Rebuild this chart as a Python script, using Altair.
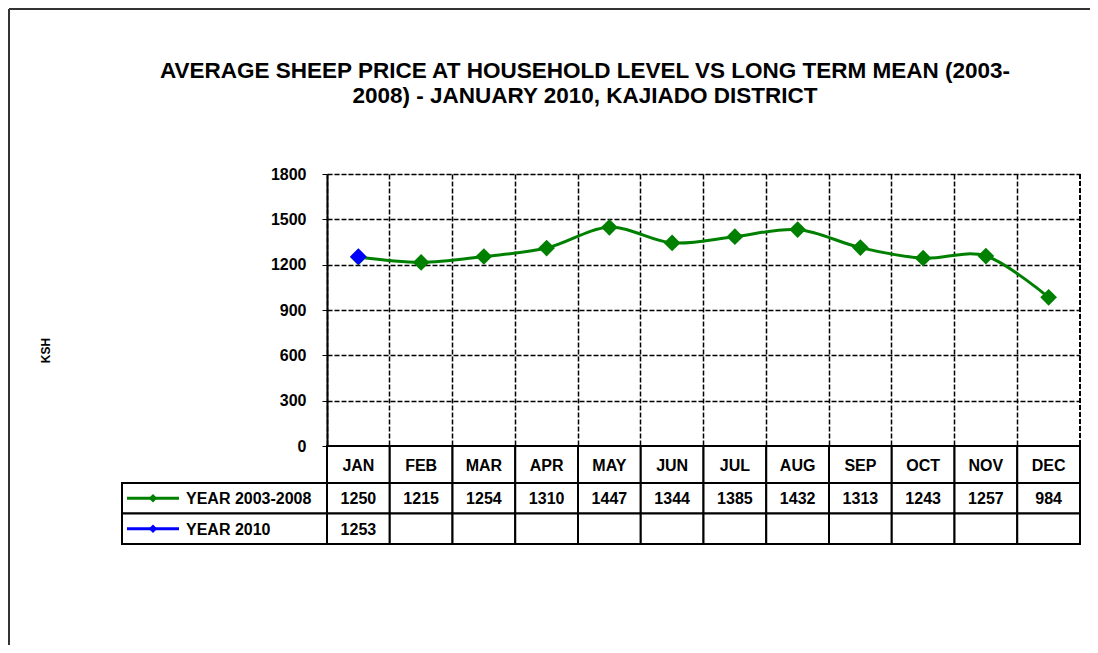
import altair as alt
import pandas as pd

months = ["JAN", "FEB", "MAR", "APR", "MAY", "JUN", "JUL", "AUG", "SEP", "OCT", "NOV", "DEC"]
mean_2003_2008 = [1250, 1215, 1254, 1310, 1447, 1344, 1385, 1432, 1313, 1243, 1257, 984]
year_2010 = [1253]
series_names = ["YEAR 2003-2008", "YEAR 2010"]
series_colors = ["#008000", "#0000FF"]
y_ticks = [0, 300, 600, 900, 1200, 1500, 1800]
title_lines = ["AVERAGE SHEEP PRICE AT HOUSEHOLD LEVEL VS LONG TERM MEAN (2003-",
               "2008) - JANUARY 2010, KAJIADO DISTRICT"]
y_title = "KSH"

FONT = "Liberation Sans"
W, H = 753, 272
HEADER_H = 37
TABLE_BOTTOM = 370
TXT = 16

# ---- data frames ----
line_rows = []
for m, v in zip(months, mean_2003_2008):
    line_rows.append({"month": m, "value": v, "series": series_names[0]})
for m, v in zip(months, year_2010):
    line_rows.append({"month": m, "value": v, "series": series_names[1]})
df_line = pd.DataFrame(line_rows)

df_header = pd.DataFrame({"month": months})
cell_rows = []
for i, m in enumerate(months):
    cell_rows.append({"month": m, "row": series_names[0], "text": str(mean_2003_2008[i])})
    cell_rows.append({"month": m, "row": series_names[1],
                      "text": str(year_2010[i]) if i < len(year_2010) else ""})
df_cells = pd.DataFrame(cell_rows)
df_legend = pd.DataFrame({"row": series_names, "series": series_names})
df_title = pd.DataFrame({"text": ["\n".join(title_lines)]})

xscale = alt.Scale(type="band", domain=months, paddingInner=0, paddingOuter=0)
xaxis = alt.Axis(labels=False, ticks=False, domainColor="black", domainWidth=2, bandPosition=0,
                 grid=True, gridColor="black", gridDash=[5, 2], gridWidth=1.5, gridOpacity=1,
                 title=None)
color = alt.Color("series:N", scale=alt.Scale(domain=series_names, range=series_colors), legend=None)


def X(center=True):
    if center:
        return alt.X("month:N", scale=xscale, sort=months, axis=xaxis, bandPosition=0.5)
    return alt.X("month:N", scale=xscale, sort=months, axis=xaxis)


yval = alt.Y("value:Q", scale=alt.Scale(domain=[0, 1800], nice=False, zero=True),
             axis=alt.Axis(values=y_ticks, format="d", title=y_title, titleFontSize=12,
                           titleFontWeight="bold",
                           titleX=-282, titleY=176, titleAngle=-90, titleAlign="center",
                           titleBaseline="middle", labelFontSize=TXT, labelFontWeight="bold",
                           labelPadding=16, tickSize=5, tickColor="black", labelColor="black",
                           domainColor="black", domainWidth=2, titleColor="black",
                           grid=True, gridColor="black", gridDash=[5, 2], gridWidth=1.5,
                           gridOpacity=1))

base_line = alt.Chart(df_line)
line = base_line.transform_filter(alt.datum.series == series_names[0]).mark_line(
    interpolate="cardinal", strokeWidth=3, color=series_colors[0]
).encode(x=X(), y=yval)
pts_mean = base_line.transform_filter(alt.datum.series == series_names[0]).mark_point(
    shape="diamond", filled=True, size=280, opacity=1
).encode(x=X(), y=yval, color=color)
pts_2010 = base_line.transform_filter(alt.datum.series == series_names[1]).mark_point(
    shape="diamond", filled=True, size=280, opacity=1
).encode(x=X(), y=yval, color=color)
right_edge = alt.Chart(df_line).mark_rule(color="black", strokeDash=[5, 2], strokeWidth=1.5).encode(
    x=alt.value(W), y=alt.value(0), y2=alt.value(H))

plot_layer = alt.layer(right_edge, line, pts_mean, pts_2010)

# ---- data table ----
scale_rows = alt.Scale(type="band", domain=series_names, range=[H + HEADER_H, TABLE_BOTTOM],
                       paddingInner=0, paddingOuter=0)
yrow = alt.Y("row:N", scale=scale_rows, axis=None, title=None)
yrow_c = alt.Y("row:N", scale=scale_rows, axis=None, title=None, bandPosition=0.5)

head_cells = alt.Chart(df_header).mark_rect(fill="white", stroke="black", strokeWidth=2).encode(
    x=X(False), y=alt.value(H), y2=alt.value(H + HEADER_H))
head_text = alt.Chart(df_header).mark_text(fontSize=TXT, fontWeight="bold", color="black",
                                           baseline="middle", font=FONT).encode(
    x=X(), y=alt.value(H + HEADER_H / 2 + 1), text="month:N")
cells = alt.Chart(df_cells).mark_rect(fill="white", stroke="black", strokeWidth=2).encode(
    x=X(False), y=yrow)
cell_text = alt.Chart(df_cells).mark_text(fontSize=TXT, fontWeight="bold", color="black",
                                          baseline="middle", font=FONT, dy=1).encode(
    x=X(), y=yrow_c, text="text:N")
leg_cells = alt.Chart(df_legend).mark_rect(fill="white", stroke="black", strokeWidth=2).encode(
    x=alt.value(-205), x2=alt.value(0), y=yrow)
leg_rule = alt.Chart(df_legend).mark_rule(strokeWidth=3).encode(
    x=alt.value(-200), x2=alt.value(-148), y=yrow_c, color=color)
leg_pt = alt.Chart(df_legend).mark_point(shape="diamond", filled=True, size=70, opacity=1).encode(
    x=alt.value(-174), y=yrow_c, color=color)
leg_text = alt.Chart(df_legend).mark_text(fontSize=TXT, fontWeight="bold", color="black",
                                          align="left", baseline="middle", font=FONT, dy=1).encode(
    x=alt.value(-141), y=yrow_c, text="row:N")

table_layer = alt.layer(head_cells, head_text, cells, cell_text, leg_cells, leg_rule, leg_pt,
                        leg_text)

# ---- title and outer frame ----
title = alt.Chart(df_title).mark_text(fontSize=22.5, fontWeight="bold", color="black", font=FONT,
                                      align="center", baseline="alphabetic", lineBreak="\n",
                                      lineHeight=25).encode(
    x=alt.value(258), y=alt.value(-96), text="text:N")
frame_top = alt.Chart(df_legend).mark_rule(color="#333333", strokeWidth=2).encode(
    x=alt.value(-318), x2=alt.value(W + 10), y=alt.value(-165))
frame_left = alt.Chart(df_legend).mark_rule(color="#333333", strokeWidth=2).encode(
    x=alt.value(-318), y=alt.value(-165), y2=alt.value(H + 199))

chart = alt.layer(plot_layer, table_layer, title, frame_top, frame_left).resolve_scale(
    y="independent"
).properties(
    width=W, height=H,
    autosize=alt.AutoSizeParams(type="none"),
    padding={"left": 319, "top": 166, "right": 10, "bottom": 199},
).configure_axis(
    labelFont=FONT, titleFont=FONT,
).configure_view(stroke=None).configure(font=FONT, background="white")

chart.save("out.html", embed_options={"renderer": "svg", "actions": False})
